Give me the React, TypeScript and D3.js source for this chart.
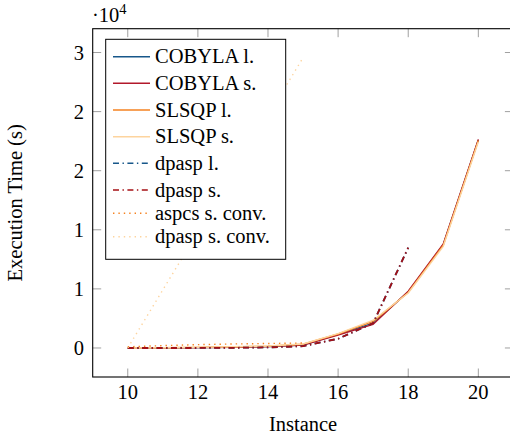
import * as d3 from "d3";

const WIDTH = 510;
const HEIGHT = 438;
// plot box (pgfplots-like axis frame)
const BOX = {left: 92.7, top: 28.7, right: 513.4, bottom: 377};
const FONT = "Liberation Serif";

// x values of each group of series
const instances = [10, 11, 12, 13, 14, 15, 16, 17, 18, 19, 20];
const dpaspInstances = [10, 11, 12, 13, 14, 15, 16, 17, 18];
const convInstances = [10, 11, 12, 13, 14, 15];
const dpaspConvInstances = [10, 15];

// execution times (s)
const cobylaL = [0, 10, 30, 60, 120, 250, 1150, 2100, 4750, 8750, 17600];
const cobylaS = [0, 10, 30, 60, 120, 250, 1100, 2000, 4800, 8800, 17650];
const slsqpL = [0, 20, 50, 90, 150, 320, 1180, 2250, 4700, 8700, 17550];
const slsqpS = [0, 20, 60, 100, 170, 340, 1220, 2350, 4650, 8600, 17450];
const dpaspL = [0, 0, 0, 10, 50, 150, 780, 2100, 8490];
const dpaspS = [0, 0, 0, 10, 50, 150, 780, 2100, 8490];
const aspcsSConv = [100, 200, 280, 340, 380, 420];
const dpaspSConv = [0, 24560];

const xTicks = [10, 12, 14, 16, 18, 20];
const yTicks = [0, 5000, 10000, 15000, 20000, 25000];
const yTickLabels = ["0", "1", "1", "2", "2", "3"];

const DASHDOT = "6,3.5,1.4,3.5";
const DOTTED = "1.4,4";

const series = [
  {name: "COBYLA l.", xs: instances, ys: cobylaL, color: "#17578a", dash: null},
  {name: "COBYLA s.", xs: instances, ys: cobylaS, color: "#b2182b", dash: null},
  {name: "SLSQP l.", xs: instances, ys: slsqpL, color: "#f58220", dash: null},
  {name: "SLSQP s.", xs: instances, ys: slsqpS, color: "#fdd49e", dash: null},
  {name: "dpasp l.", xs: dpaspInstances, ys: dpaspL, color: "#17578a", dash: DASHDOT},
  {name: "dpasp s.", xs: dpaspInstances, ys: dpaspS, color: "#a50f15", dash: DASHDOT},
  {name: "aspcs s. conv.", xs: convInstances, ys: aspcsSConv, color: "#f58220", dash: DOTTED},
  {name: "dpasp s. conv.", xs: dpaspConvInstances, ys: dpaspSConv, color: "#fdd49e", dash: DOTTED},
];

// legend rows (vertical centre of each entry)
const LEGEND = {x0: 105.7, y0: 39.3, x1: 285.7, y1: 259.3};
const legendRows = [56.7, 83.3, 110, 136.7, 163.3, 190, 213.3, 236.7];

export default function App() {
  // pgfplots enlarges limits by 10% on each side
  const xExt = d3.extent(instances) as [number, number];
  const xPad = (xExt[1] - xExt[0]) * 0.1;
  const x = d3.scaleLinear().domain([xExt[0] - xPad, xExt[1] + xPad]).range([BOX.left, BOX.right]);

  const allY = series.flatMap(s => s.ys);
  const yExt = d3.extent(allY) as [number, number];
  const yPad = (yExt[1] - yExt[0]) * 0.1;
  const y = d3.scaleLinear().domain([yExt[0] - yPad, yExt[1] + yPad]).range([BOX.bottom, BOX.top]);

  const line = d3.line<[number, number]>().x(d => x(d[0])).y(d => y(d[1]));

  const tickLen = 8.5;
  const tickColor = "#a0a0a0";

  return (
    <svg width={WIDTH} height={HEIGHT} style={{position: "absolute", left: 0, top: 0, fontFamily: FONT}}>
      <rect width={WIDTH} height={HEIGHT} fill="white" />

      {/* ticks, drawn inside on all four sides */}
      {xTicks.map(t => (
        <g key={"xt" + t} stroke={tickColor} strokeWidth={1}>
          <line x1={x(t)} x2={x(t)} y1={BOX.bottom} y2={BOX.bottom - tickLen} />
          <line x1={x(t)} x2={x(t)} y1={BOX.top} y2={BOX.top + tickLen} />
        </g>
      ))}
      {yTicks.map(t => (
        <g key={"yt" + t} stroke={tickColor} strokeWidth={1}>
          <line x1={BOX.left} x2={BOX.left + tickLen} y1={y(t)} y2={y(t)} />
          <line x1={BOX.right} x2={BOX.right - tickLen} y1={y(t)} y2={y(t)} />
        </g>
      ))}

      {/* data */}
      {series.map(s => (
        <path
          key={s.name}
          d={line(s.xs.map((v, i) => [v, s.ys[i]] as [number, number])) || ""}
          fill="none"
          stroke={s.color}
          strokeWidth={s.dash === DASHDOT ? 1.8 : 1.4}
          strokeDasharray={s.dash || undefined}
          strokeLinejoin="round"
        />
      ))}

      {/* frame */}
      <rect x={BOX.left} y={BOX.top} width={BOX.right - BOX.left} height={BOX.bottom - BOX.top}
            fill="none" stroke="black" strokeWidth={1.1} />

      {/* tick labels */}
      {xTicks.map(t => (
        <text key={"xl" + t} x={x(t)} y={399} textAnchor="middle" fontSize={20.5}>{t}</text>
      ))}
      {yTicks.map((t, i) => (
        <text key={"yl" + t} x={84} y={y(t) + 7} textAnchor="end" fontSize={20.5}>{yTickLabels[i]}</text>
      ))}
      <text x={92} y={22} fontSize={20.5}>·10<tspan fontSize={14.5} dy={-8}>4</tspan></text>

      {/* axis labels */}
      <text x={(BOX.left + BOX.right) / 2} y={431} textAnchor="middle" fontSize={20.5}>Instance</text>
      <text transform={`translate(22,${(BOX.top + BOX.bottom) / 2}) rotate(-90)`} textAnchor="middle" fontSize={20.5}>
        Execution Time (s)
      </text>

      {/* legend */}
      <rect x={LEGEND.x0} y={LEGEND.y0} width={LEGEND.x1 - LEGEND.x0} height={LEGEND.y1 - LEGEND.y0}
            fill="white" stroke="black" strokeWidth={1} />
      {series.map((s, i) => (
        <g key={"lg" + s.name}>
          <line x1={113} x2={150} y1={legendRows[i]} y2={legendRows[i]} stroke={s.color}
                strokeWidth={1.4} strokeDasharray={s.dash || undefined} />
          <text x={155} y={legendRows[i] + 6.5} fontSize={20.5}>{s.name}</text>
        </g>
      ))}
    </svg>
  );
}
